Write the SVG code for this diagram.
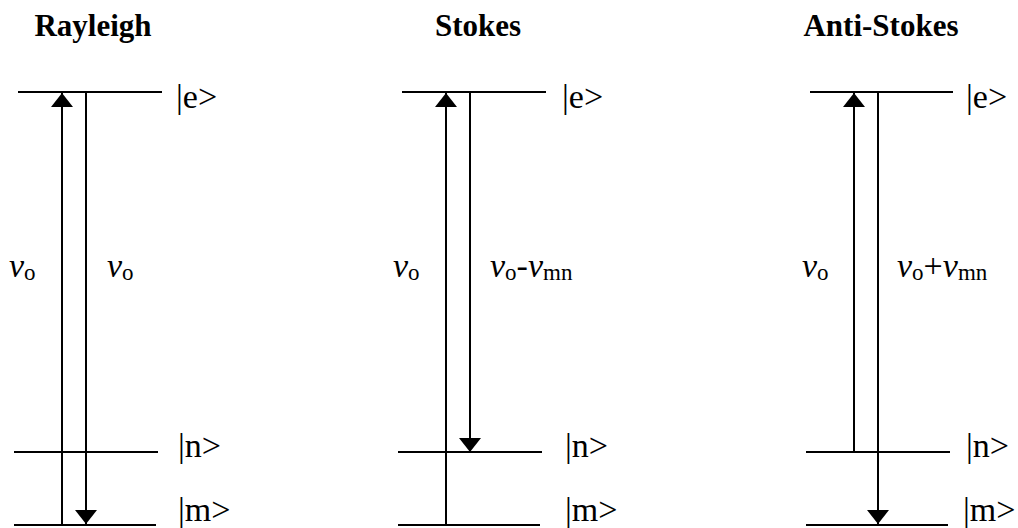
<svg xmlns="http://www.w3.org/2000/svg" width="1018" height="528" viewBox="0 0 1018 528">
<defs>
<style>
.lvl{stroke:#000;stroke-width:2;fill:none}
.arr{stroke:#000;stroke-width:2;fill:none}
.title{font-family:"Liberation Serif",serif;font-weight:bold;font-size:31px;fill:#000;text-anchor:middle}
.ket{font-family:"Liberation Serif",serif;font-size:34px;fill:#000}
.nu{font-family:"Liberation Serif",serif;font-size:34px;fill:#000}
.it{font-style:italic}
.sub{font-size:23px}
</style>
<marker id="ah" viewBox="0 -11 14 22" refX="14" refY="0" markerWidth="14" markerHeight="22" markerUnits="userSpaceOnUse" orient="auto">
<path d="M0,-11 L14,0 L0,11 z" fill="#000"/>
</marker>
</defs>
<rect width="1018" height="528" fill="#fff"/>

<g id="rayleigh">
<text class="title" x="93" y="36">Rayleigh</text>
<line class="lvl" x1="18" y1="92" x2="162" y2="92"/>
<line class="lvl" x1="14" y1="452" x2="158" y2="452"/>
<line class="lvl" x1="14" y1="525" x2="156" y2="525"/>
<text class="ket" x="176" y="108">|e&gt;</text>
<text class="ket" x="178" y="457">|n&gt;</text>
<text class="ket" x="178" y="521">|m&gt;</text>
<text class="nu" x="9" y="277"><tspan class="it">v</tspan><tspan class="sub" dy="3">o</tspan></text>
<text class="nu" x="107" y="277"><tspan class="it">v</tspan><tspan class="sub" dy="3">o</tspan></text>
</g>

<g id="stokes">
<text class="title" x="478" y="36">Stokes</text>
<line class="lvl" x1="402" y1="92" x2="546" y2="92"/>
<line class="lvl" x1="398" y1="452" x2="542" y2="452"/>
<line class="lvl" x1="398" y1="525" x2="540" y2="525"/>
<text class="ket" x="562" y="108">|e&gt;</text>
<text class="ket" x="565" y="457">|n&gt;</text>
<text class="ket" x="565" y="521">|m&gt;</text>
<text class="nu" x="393" y="277"><tspan class="it">v</tspan><tspan class="sub" dy="3">o</tspan></text>
<text class="nu" x="490" y="277"><tspan class="it">v</tspan><tspan class="sub" dy="3">o</tspan><tspan dy="-3">-</tspan><tspan class="it">v</tspan><tspan class="sub" dy="3">mn</tspan></text>
</g>

<g id="antistokes">
<text class="title" x="881" y="36">Anti-Stokes</text>
<line class="lvl" x1="810" y1="92" x2="953" y2="92"/>
<line class="lvl" x1="806" y1="452" x2="950" y2="452"/>
<line class="lvl" x1="806" y1="525" x2="948" y2="525"/>
<text class="ket" x="966" y="108">|e&gt;</text>
<text class="ket" x="966" y="457">|n&gt;</text>
<text class="ket" x="963" y="521">|m&gt;</text>
<text class="nu" x="802" y="277"><tspan class="it">v</tspan><tspan class="sub" dy="3">o</tspan></text>
<text class="nu" x="897" y="277"><tspan class="it">v</tspan><tspan class="sub" dy="3">o</tspan><tspan dy="-3">+</tspan><tspan class="it">v</tspan><tspan class="sub" dy="3">mn</tspan></text>
</g>

<g id="connectors">
<line class="arr" x1="62" y1="525" x2="62" y2="93" marker-end="url(#ah)"/>
<line class="arr" x1="86" y1="92" x2="86" y2="524" marker-end="url(#ah)"/>
<line class="arr" x1="446" y1="525" x2="446" y2="93" marker-end="url(#ah)"/>
<line class="arr" x1="470" y1="92" x2="470" y2="452" marker-end="url(#ah)"/>
<line class="arr" x1="854" y1="452" x2="854" y2="93" marker-end="url(#ah)"/>
<line class="arr" x1="878" y1="92" x2="878" y2="524" marker-end="url(#ah)"/>
</g>
</svg>
